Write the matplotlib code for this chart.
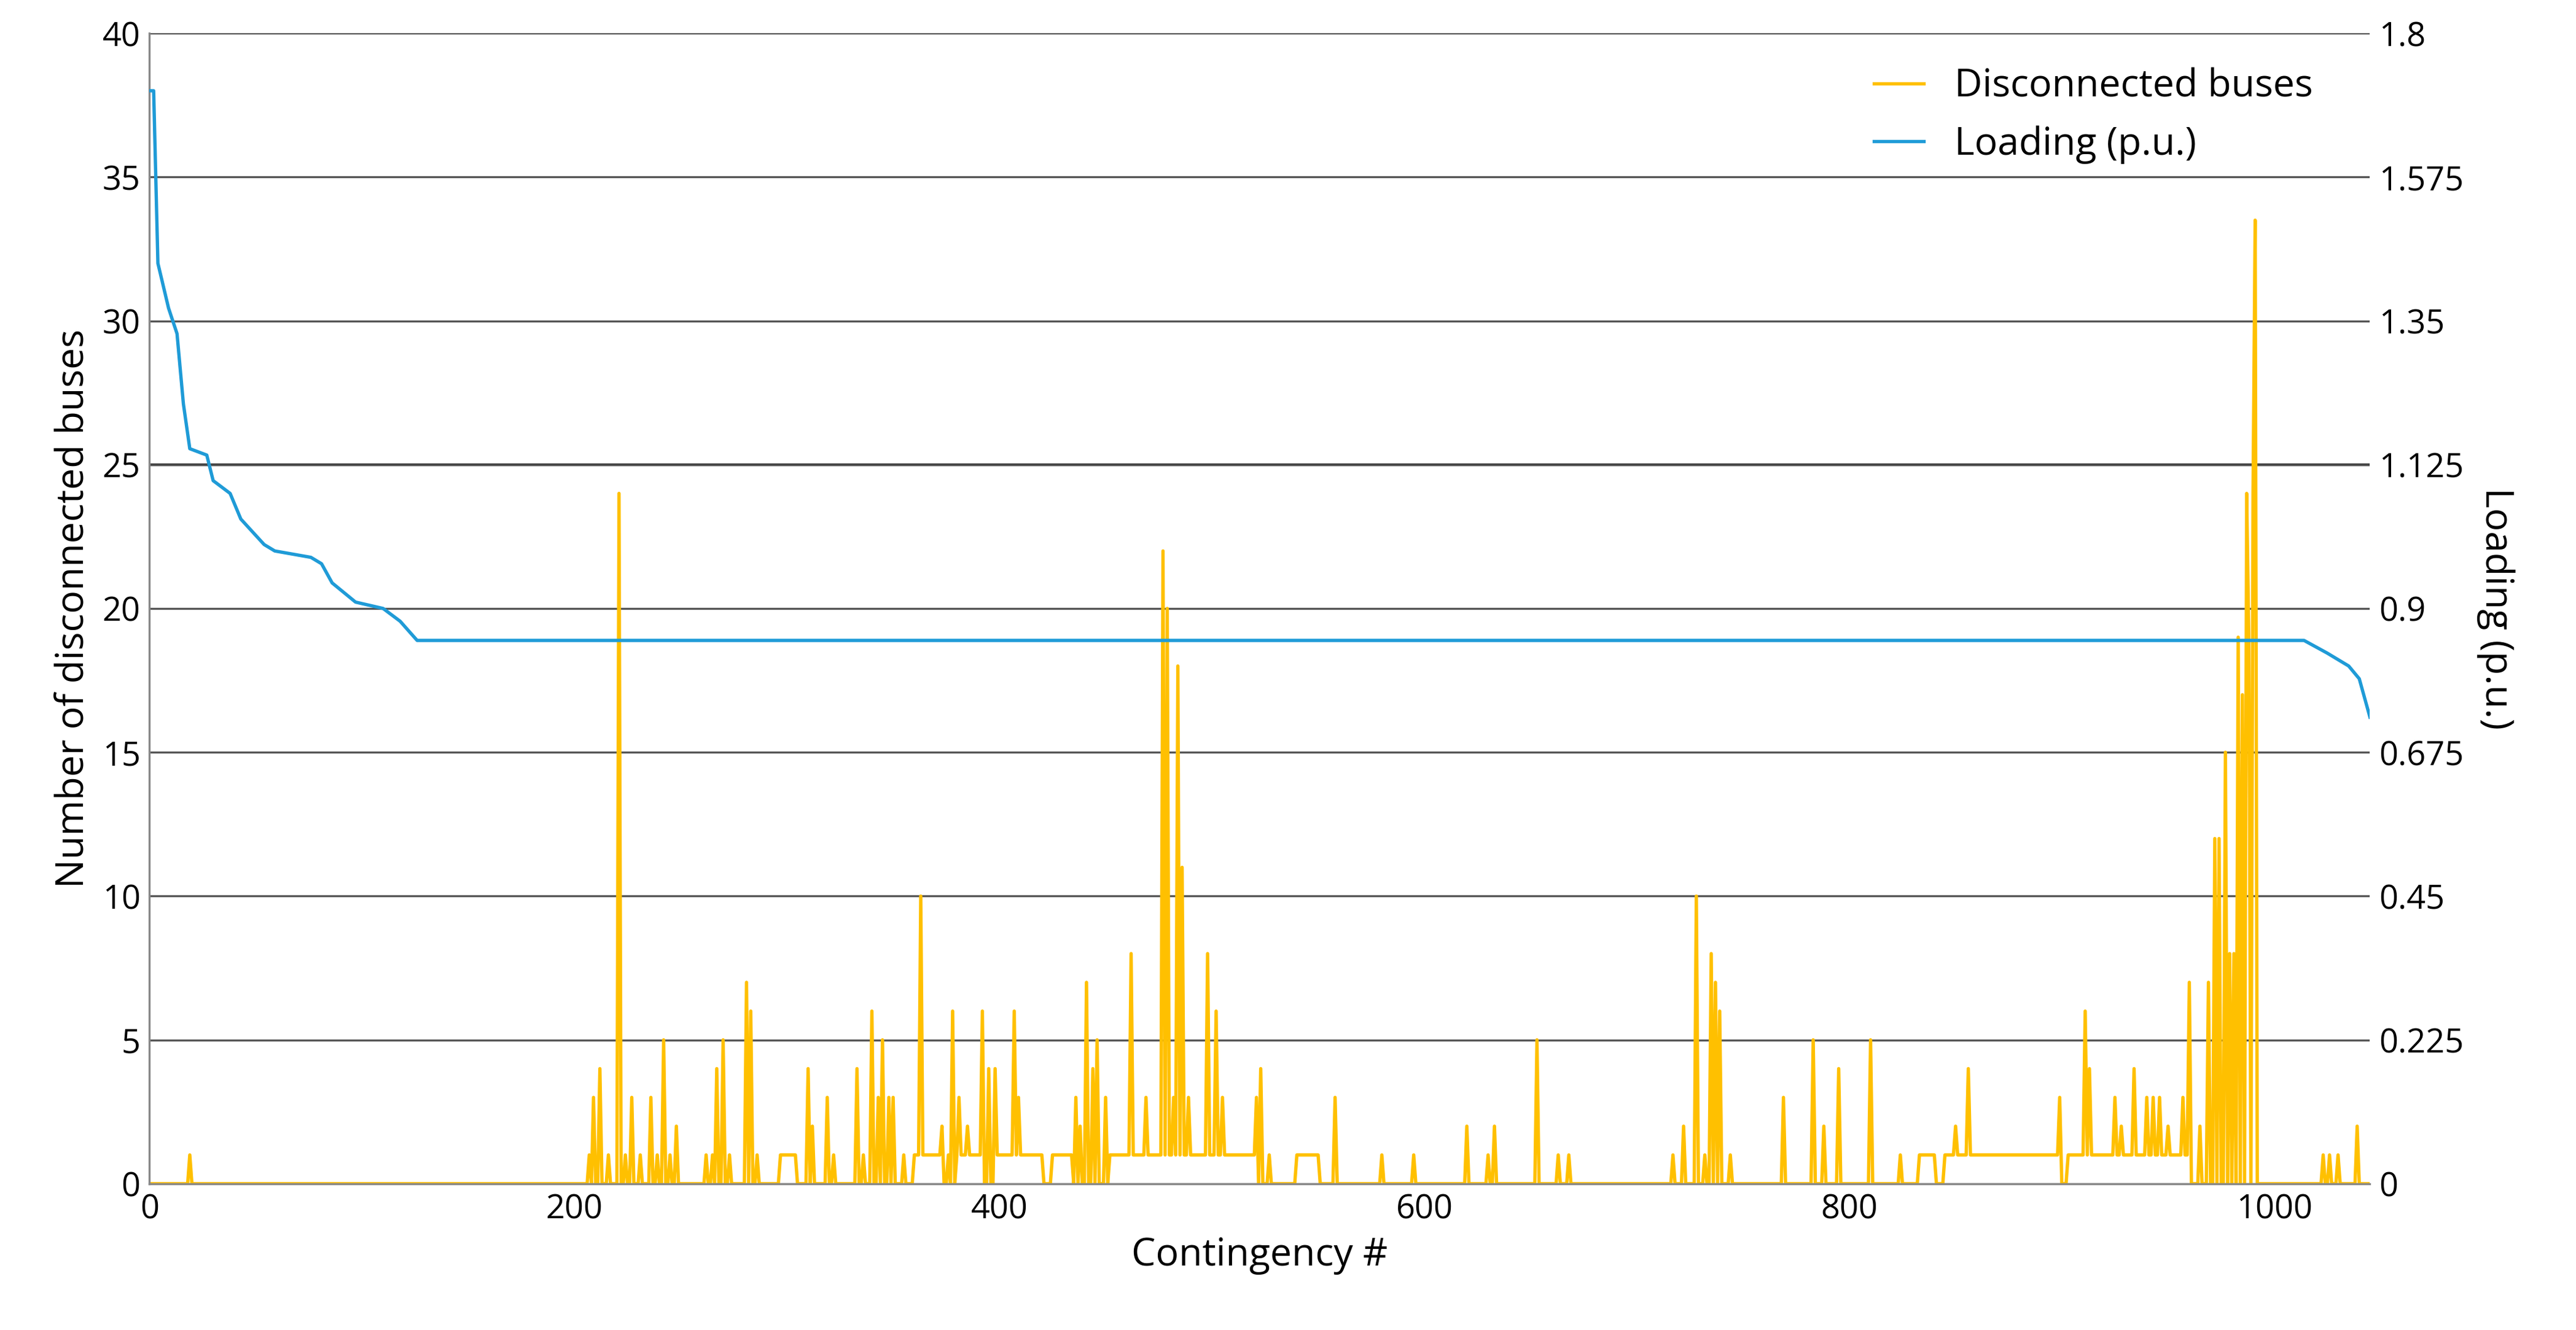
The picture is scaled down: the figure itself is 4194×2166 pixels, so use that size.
import numpy as np
import matplotlib.pyplot as plt

plt.rcParams['font.family'] = ['Open Sans', 'DejaVu Sans']

n_cont = 1046
# ranges where one bus is disconnected (start, end)
ones_ranges = [(297, 304), (360, 372), (380, 392), (399, 420), (425, 434), (452, 520),
               (540, 550), (833, 840), (845, 898), (903, 960)]
# isolated spikes (contingency #, disconnected buses)
spike_idx = [19, 207, 209, 212, 216, 221, 224, 227, 231, 236, 239, 242, 245, 248,
             262, 265, 267, 270, 273, 281, 283, 286,
             310, 312, 319, 322, 333, 336, 340, 343, 345, 348, 350, 355, 363, 366,
             373, 376, 378, 381, 385, 392, 395, 398, 402, 407, 409, 413,
             436, 438, 441, 444, 446, 450, 462, 466, 469, 474, 477, 479, 482, 484, 486,
             489, 495, 498, 502, 505, 510, 521, 523, 527, 545, 549, 558,
             580, 595, 620, 630, 633, 653, 663, 668,
             717, 722, 728, 732, 735, 737, 739, 744,
             769, 783, 788, 795, 810, 824, 850, 856, 880, 899, 911, 913, 925, 928,
             934, 937, 940, 943, 946, 950, 957, 960, 965, 969, 972, 974, 977, 979,
             981, 983, 985, 987, 988, 990, 991, 1023, 1026, 1030, 1039]
spike_val = [1, 1, 3, 4, 1, 24, 1, 3, 1, 3, 1, 5, 1, 2,
             1, 1, 4, 5, 1, 7, 6, 1,
             4, 2, 3, 1, 4, 1, 6, 3, 5, 3, 3, 1, 10, 1,
             2, 1, 6, 3, 2, 6, 4, 4, 1, 6, 3, 1,
             3, 2, 7, 4, 5, 3, 8, 1, 3, 1, 22, 20, 3, 18, 11,
             3, 1, 8, 6, 3, 1, 3, 4, 1, 1, 1, 3,
             1, 1, 2, 1, 2, 5, 1, 1,
             1, 2, 10, 1, 8, 7, 6, 1,
             3, 5, 2, 4, 5, 1, 2, 4, 1, 3, 6, 4, 3, 2,
             4, 1, 3, 3, 3, 2, 3, 7, 2, 7, 12, 12, 15, 8,
             8, 19, 17, 24, 19, 24, 33.5, 1, 1, 1, 2]

# loading breakpoints (contingency #, p.u.)
load_x = [0, 2, 4, 9, 13, 16, 19, 27, 30, 38, 43, 54, 59, 76, 81, 86, 97, 110, 118,
          126, 1014, 1025, 1035, 1040, 1045]
load_y = [1.71, 1.71, 1.44, 1.37, 1.33, 1.22, 1.15, 1.14, 1.10, 1.08, 1.04, 1.00, 0.99,
          0.98, 0.97, 0.94, 0.91, 0.90, 0.88, 0.85, 0.85, 0.83, 0.81, 0.79, 0.73]

contingency = np.arange(n_cont)
buses = np.zeros(n_cont)
for a, b in ones_ranges:
    buses[a:b + 1] = 1
for i, v in zip(spike_idx, spike_val):
    buses[i] = v
loading = np.interp(contingency, load_x, load_y)

fig, ax = plt.subplots(figsize=(13.98, 7.22), dpi=300)
fig.subplots_adjust(left=0.058, right=0.92, top=0.975, bottom=0.11)
ax2 = ax.twinx()

ax.plot(contingency, buses, color='#FFC000', lw=1.3, label='Disconnected buses')
ax2.plot(contingency, loading, color='#1F9BD7', lw=1.3, label='Loading (p.u.)')

ax.set_xlim(0, 1045)
ax.set_ylim(0, 40)
ax2.set_ylim(0, 1.8)
ax.set_yticks(np.arange(0, 41, 5))
ax2.set_yticks(np.arange(0, 1.81, 0.225))
ax2.set_yticklabels(['0', '0.225', '0.45', '0.675', '0.9', '1.125', '1.35', '1.575', '1.8'])
ax.set_xticks([0, 200, 400, 600, 800, 1000])
ax.yaxis.grid(True, color='#555555', lw=0.8)
ax.axhline(25, color='black', lw=1.0, zorder=0)
ax.set_axisbelow(True)
for a in (ax, ax2):
    a.tick_params(labelsize=13, length=0)
    for s in ('top', 'right'):
        a.spines[s].set_visible(False)
    a.spines['left'].set_color('#888888')
    a.spines['bottom'].set_color('#888888')
ax2.spines['left'].set_visible(False)
ax2.spines['bottom'].set_visible(False)
ax.set_xlabel('Contingency #', fontsize=15)
ax.set_ylabel('Number of disconnected buses', fontsize=15)
ax2.set_ylabel('Loading (p.u.)', fontsize=15, rotation=270, labelpad=20)

h1, l1 = ax.get_legend_handles_labels()
h2, l2 = ax2.get_legend_handles_labels()
ax2.legend(h1 + h2, l1 + l2, loc='upper right', frameon=False, fontsize=15,
           handlelength=1.3, bbox_to_anchor=(0.99, 1.0))

fig.savefig('out.png')
